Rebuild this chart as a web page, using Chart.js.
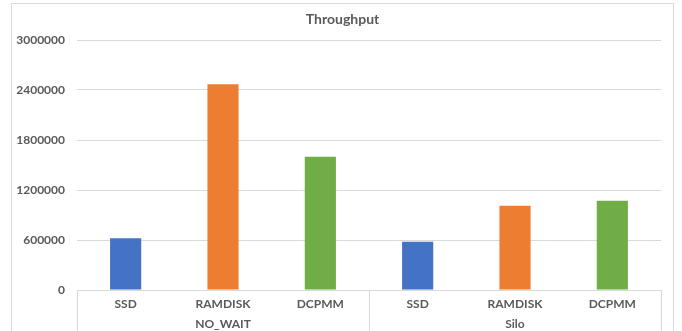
<!DOCTYPE html>
<html>
<head>
<meta charset="utf-8">
<script src="https://cdn.jsdelivr.net/npm/chart.js@4/dist/chart.umd.min.js"></script>
<style>
  html, body { margin: 0; padding: 0; background: #ffffff; overflow: hidden; }
  #wrap { position: relative; width: 682px; height: 331px; }
</style>
</head>
<body>
<div id="wrap"><canvas id="chart" width="682" height="331"></canvas></div>
<script>
// Storage backends, grouped by concurrency-control scheme
const categories = ['SSD', 'RAMDISK', 'DCPMM', 'SSD', 'RAMDISK', 'DCPMM'];
const groups = ['NO_WAIT', 'Silo'];
const throughput = [620000, 2470000, 1600000, 580000, 1010000, 1070000];
const yTicks = [0, 600000, 1200000, 1800000, 2400000, 3000000];
const chartTitle = 'Throughput';

const barColors = ['#4472C4', '#ED7D31', '#70AD47', '#4472C4', '#ED7D31', '#70AD47'];
const textColor = '#595959';
const lineColor = '#d9d9d9';
const FONT = 'Lato, "Open Sans", sans-serif';

// Frame box (x, y, width) that the title is centred in
const FRAME = { x: 11.5, y: 3.5, w: 662 };

// Outer frame, centred title, and the boxes that separate the two category groups
const frameAndGroups = {
  id: 'frameAndGroups',
  beforeDraw(chart) {
    const ctx = chart.ctx;
    ctx.save();
    ctx.strokeStyle = lineColor;
    ctx.lineWidth = 1;
    ctx.strokeRect(FRAME.x, FRAME.y, FRAME.w, 400);
    ctx.fillStyle = textColor;
    ctx.font = 'bold 14px ' + FONT;
    ctx.textAlign = 'center';
    ctx.textBaseline = 'middle';
    ctx.fillText(chartTitle, FRAME.x + FRAME.w / 2, 19);
    ctx.restore();
  },
  afterDraw(chart) {
    const ctx = chart.ctx;
    const x = chart.scales.x;
    const area = chart.chartArea;
    const per = categories.length / groups.length;
    const edges = [];
    for (let g = 0; g <= groups.length; g++) {
      const i = g * per;
      let px;
      if (i === 0) px = area.left;
      else if (i === categories.length) px = area.right;
      else px = (x.getPixelForValue(i - 1) + x.getPixelForValue(i)) / 2;
      edges.push(Math.round(px) + 0.5);
    }
    ctx.save();
    ctx.strokeStyle = lineColor;
    ctx.lineWidth = 1;
    ctx.beginPath();
    edges.forEach(px => {
      ctx.moveTo(px, area.bottom);
      ctx.lineTo(px, chart.height);
    });
    ctx.stroke();
    ctx.restore();
  }
};

const tickFont = { family: FONT, size: 12, weight: 'bold' };

new Chart(document.getElementById('chart'), {
  type: 'bar',
  data: {
    labels: categories,
    datasets: [{
      label: chartTitle,
      data: throughput,
      backgroundColor: barColors,
      borderWidth: 0,
      categoryPercentage: 1,
      barPercentage: 0.32
    }]
  },
  options: {
    responsive: false,
    animation: false,
    layout: { padding: { left: 0, right: 21, top: 40, bottom: 0 } },
    plugins: {
      legend: { display: false },
      tooltip: { enabled: false },
      title: { display: false }
    },
    scales: {
      y: {
        min: 0,
        max: 3000000,
        afterBuildTicks(scale) { scale.ticks = yTicks.map(v => ({ value: v })); },
        afterFit(scale) { scale.width = 77; },
        ticks: {
          color: textColor,
          font: tickFont,
          padding: 12,
          callback: v => String(v)
        },
        grid: { color: lineColor, drawTicks: false },
        border: { display: false }
      },
      x: {
        offset: true,
        afterFit(scale) { scale.height = 21; },
        ticks: {
          color: textColor,
          font: tickFont,
          padding: 7,
          maxRotation: 0,
          autoSkip: false
        },
        grid: { display: false, drawTicks: false },
        border: { color: lineColor }
      },
      x2: {
        type: 'category',
        labels: groups,
        position: 'bottom',
        offset: true,
        afterFit(scale) { scale.height = 20; },
        ticks: {
          color: textColor,
          font: tickFont,
          padding: 6,
          maxRotation: 0
        },
        grid: { display: false, drawTicks: false },
        border: { display: false }
      }
    }
  },
  plugins: [frameAndGroups]
});
</script>
</body>
</html>
